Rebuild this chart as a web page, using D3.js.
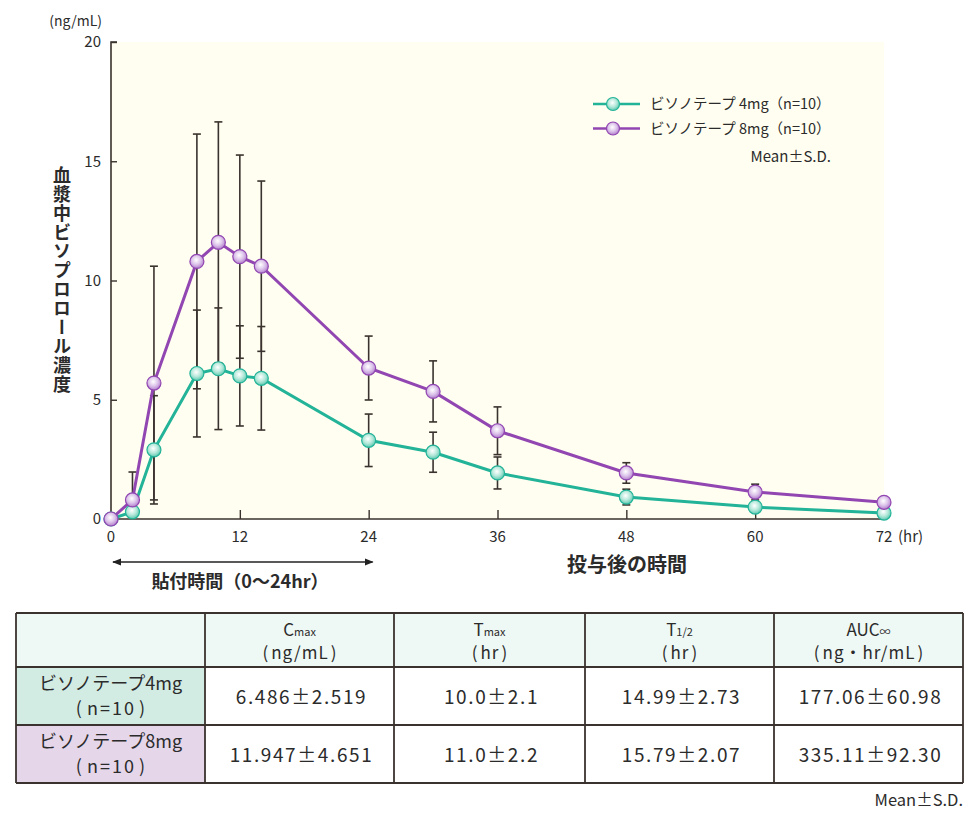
<!DOCTYPE html>
<html><head><meta charset="utf-8">
<script src="https://cdn.jsdelivr.net/npm/d3@7"></script>
<style>
html,body{margin:0;padding:0;background:#fff;}
svg{display:block;font-family:"Noto Sans CJK JP","Noto Sans",sans-serif;}
</style></head>
<body>
<script>
// ---- data ----
const times = [0, 2, 4, 8, 10, 12, 14, 24, 30, 36, 48, 60, 72];
const mean4 = [0, 0.3, 2.9, 6.1, 6.3, 6.0, 5.9, 3.3, 2.8, 1.93, 0.92, 0.5, 0.25];
const sd4   = [0, 0.4, 2.27, 2.66, 2.55, 2.1, 2.17, 1.1, 0.84, 0.67, 0.33, 0.2, 0.15];
const mean8 = [0, 0.8, 5.7, 10.8, 11.6, 11.0, 10.6, 6.33, 5.35, 3.7, 1.93, 1.13, 0.7];
const sd8   = [0, 1.17, 4.9, 5.34, 5.05, 4.26, 3.57, 1.34, 1.28, 1.0, 0.43, 0.33, 0.2];
const seriesNames = ["ビソノテープ 4mg（n=10）", "ビソノテープ 8mg（n=10）"];
const yTicks = [0, 5, 10, 15, 20];
const xTicks = [0, 12, 24, 36, 48, 60, 72];

const tableHeadMain = ["C", "T", "T", "AUC"];
const tableHeadSub  = ["max", "max", "1/2", "∞"];
const tableHeadUnit = ["(\u200Ang/mL\u200A)", "(\u200Ahr\u200A)", "(\u200Ahr\u200A)", "(\u200Ang・hr/mL\u200A)"];
const rowNames = ["ビソノテープ4mg", "ビソノテープ8mg"];
const rowN = ["(\u200An=10\u200A)", "(\u200An=10\u200A)"];
const row4 = ["6.486±2.519", "10.0±2.1", "14.99±2.73", "177.06±60.98"];
const row8 = ["11.947±4.651", "11.0±2.2", "15.79±2.07", "335.11±92.30"];

const colors = ["#22b398", "#9146b2"];
const gradStops = [["#ffffff", "#b5e8da", "#5cc9b0"], ["#ffffff", "#dcc3ea", "#b27fcd"]];
const textColor = "#2b2b2b";
const axisColor = "#3a322e";

const W = 969, H = 815;
const svg = d3.select("body").append("svg").attr("width", W).attr("height", H);

const x = d3.scaleLinear().domain([0, 72]).range([111, 884]);
const y = d3.scaleLinear().domain([0, 20]).range([519, 42]);

// gradients
const defs = svg.append("defs");
gradStops.forEach((g, i) => {
  const rg = defs.append("radialGradient").attr("id", "mg" + i).attr("cx", "45%").attr("cy", "40%").attr("r", "60%");
  rg.append("stop").attr("offset", "0%").attr("stop-color", g[0]);
  rg.append("stop").attr("offset", "55%").attr("stop-color", g[1]);
  rg.append("stop").attr("offset", "100%").attr("stop-color", g[2]);
});
const ah = defs.append("marker").attr("id", "ah").attr("viewBox", "0 0 10 10").attr("refX", 9).attr("refY", 5)
  .attr("markerWidth", 9).attr("markerHeight", 9).attr("markerUnits", "userSpaceOnUse").attr("orient", "auto-start-reverse");
ah.append("path").attr("d", "M0,1 L10,5 L0,9 Z").attr("fill", "#222");

// plot background
svg.append("rect").attr("x", x(0)).attr("y", y(20)).attr("width", x(72) - x(0)).attr("height", y(0) - y(20)).attr("fill", "#fffef0");

// axes
const gy = svg.append("g").attr("transform", `translate(${x(0)},0)`)
  .call(d3.axisRight(y).tickValues(yTicks).tickSize(6).tickFormat(""));
gy.select(".domain").attr("stroke", axisColor).attr("stroke-width", 1.6).attr("d", `M6,${y(20)}H0V${y(0)}`);
gy.selectAll(".tick line").attr("stroke", axisColor).attr("stroke-width", 1.4);
yTicks.forEach(t => {
  svg.append("text").attr("x", 101).attr("y", y(t)).attr("dy", "0.35em").attr("text-anchor", "end")
    .attr("font-size", 15).attr("fill", textColor).text(t);
});
svg.append("text").attr("x", 102).attr("y", 21).attr("dy", "0.35em").attr("text-anchor", "end")
  .attr("font-size", 14).attr("fill", textColor).text("(ng/mL)");

const gx = svg.append("g").attr("transform", `translate(0,${y(0)})`)
  .call(d3.axisTop(x).tickValues(xTicks.slice(1, -1)).tickSize(9).tickFormat(""));
gx.select(".domain").attr("stroke", axisColor).attr("stroke-width", 1.6).attr("d", `M${x(0)},0H${x(72)}`);
gx.selectAll(".tick line").attr("stroke", axisColor).attr("stroke-width", 1.4);
xTicks.forEach(t => {
  svg.append("text").attr("x", x(t)).attr("y", 537).attr("dy", "0.35em").attr("text-anchor", "middle")
    .attr("font-size", 15).attr("fill", textColor).text(t);
});
svg.append("text").attr("x", 898).attr("y", 537).attr("dy", "0.35em").attr("text-anchor", "start")
  .attr("font-size", 15).attr("fill", textColor).text("(hr)");

// axis titles
svg.append("text").attr("x", 627).attr("y", 565).attr("dy", "0.35em").attr("text-anchor", "middle")
  .attr("font-size", 20).attr("font-weight", "bold").attr("fill", textColor).text("投与後の時間");
svg.append("text").attr("x", 62).attr("y", 280).attr("text-anchor", "middle")
  .style("writing-mode", "vertical-rl").attr("font-size", 18).attr("font-weight", "bold")
  .attr("fill", textColor).attr("letter-spacing", 1).text("血漿中ビソプロロール濃度");

// dosing arrow
svg.append("line").attr("x1", x(0) + 2).attr("x2", x(24) + 4).attr("y1", 562).attr("y2", 562)
  .attr("stroke", "#222").attr("stroke-width", 1.5)
  .attr("marker-start", "url(#ah)").attr("marker-end", "url(#ah)");
svg.append("text").attr("x", 240).attr("y", 582).attr("dy", "0.35em").attr("text-anchor", "middle")
  .attr("font-size", 18).attr("font-weight", "bold").attr("fill", textColor).text("貼付時間（0〜24hr）");

// data
const series = [
  times.map((t, i) => ({ t, m: mean4[i], s: sd4[i] })),
  times.map((t, i) => ({ t, m: mean8[i], s: sd8[i] }))
];

// error bars
const eb = svg.append("g").attr("stroke", axisColor).attr("stroke-width", 1.6).attr("fill", "none");
series.forEach(ser => {
  ser.filter(d => d.s > 0).forEach(d => {
    const hi = d.m + d.s, lo = Math.max(0, d.m - d.s);
    eb.append("line").attr("x1", x(d.t)).attr("x2", x(d.t)).attr("y1", y(hi)).attr("y2", y(lo));
    eb.append("line").attr("x1", x(d.t) - 4).attr("x2", x(d.t) + 4).attr("y1", y(hi)).attr("y2", y(hi));
    if (d.m - d.s > 0)
      eb.append("line").attr("x1", x(d.t) - 4).attr("x2", x(d.t) + 4).attr("y1", y(lo)).attr("y2", y(lo));
  });
});

const line = d3.line().x(d => x(d.t)).y(d => y(d.m));
series.forEach((ser, i) => {
  svg.append("path").datum(ser).attr("d", line).attr("fill", "none")
    .attr("stroke", colors[i]).attr("stroke-width", 3);
});
series.forEach((ser, i) => {
  svg.append("g").selectAll("circle").data(ser).join("circle")
    .attr("cx", d => x(d.t)).attr("cy", d => y(d.m)).attr("r", 7)
    .attr("fill", `url(#mg${i})`).attr("stroke", colors[i]).attr("stroke-width", 1.2);
});

// legend
seriesNames.forEach((nm, i) => {
  const ly = 104 + i * 24.5;
  svg.append("line").attr("x1", 593).attr("x2", 640).attr("y1", ly).attr("y2", ly)
    .attr("stroke", colors[i]).attr("stroke-width", 2.5);
  svg.append("circle").attr("cx", 613).attr("cy", ly).attr("r", 6.5)
    .attr("fill", `url(#mg${i})`).attr("stroke", colors[i]).attr("stroke-width", 1.2);
  svg.append("text").attr("x", 650).attr("y", ly).attr("dy", "0.35em").attr("font-size", 14.5)
    .attr("fill", textColor).text(nm);
});
svg.append("text").attr("x", 831).attr("y", 157).attr("dy", "0.35em").attr("text-anchor", "end")
  .attr("font-size", 15).attr("fill", textColor).text("Mean±S.D.");

// ---- table ----
const colX = [16, 205, 394, 585, 774, 963];
const rowY = [613, 667, 725, 783];
const tg = svg.append("g");
tg.append("rect").attr("x", colX[0]).attr("y", rowY[0]).attr("width", colX[5] - colX[0]).attr("height", rowY[1] - rowY[0]).attr("fill", "#eef8f4");
tg.append("rect").attr("x", colX[0]).attr("y", rowY[1]).attr("width", colX[1] - colX[0]).attr("height", rowY[2] - rowY[1]).attr("fill", "#d3ece3");
tg.append("rect").attr("x", colX[0]).attr("y", rowY[2]).attr("width", colX[1] - colX[0]).attr("height", rowY[3] - rowY[2]).attr("fill", "#e5d6ea");
rowY.forEach(yy => tg.append("line").attr("x1", colX[0]).attr("x2", colX[5]).attr("y1", yy).attr("y2", yy)
  .attr("stroke", axisColor).attr("stroke-width", 1.8));
colX.forEach(xx => tg.append("line").attr("x1", xx).attr("x2", xx).attr("y1", rowY[0]).attr("y2", rowY[3])
  .attr("stroke", axisColor).attr("stroke-width", 1.8));
// header
tableHeadMain.forEach((h, j) => {
  const cx = (colX[j + 1] + colX[j + 2]) / 2;
  const t = tg.append("text").attr("x", cx).attr("y", 630).attr("dy", "0.35em").attr("text-anchor", "middle")
    .attr("font-size", 17).attr("fill", textColor);
  t.append("tspan").text(h);
  t.append("tspan").attr("font-size", 11).text(tableHeadSub[j]);
  tg.append("text").attr("x", cx + 0.5).attr("y", 653).attr("dy", "0.35em").attr("text-anchor", "middle")
    .attr("font-size", 17).attr("letter-spacing", 1).attr("fill", textColor).text(tableHeadUnit[j]);
});
// rows
[row4, row8].forEach((row, r) => {
  const top = rowY[r + 1], bot = rowY[r + 2], mid = (top + bot) / 2;
  const lc = (colX[0] + colX[1]) / 2;
  tg.append("text").attr("x", lc).attr("y", mid - 12).attr("dy", "0.35em").attr("text-anchor", "middle")
    .attr("font-size", 18).attr("fill", textColor).text(rowNames[r]);
  tg.append("text").attr("x", lc + 1).attr("y", mid + 13).attr("dy", "0.35em").attr("text-anchor", "middle")
    .attr("font-size", 18).attr("letter-spacing", 2).attr("fill", textColor).text(rowN[r]);
  row.forEach((v, j) => {
    tg.append("text").attr("x", (colX[j + 1] + colX[j + 2]) / 2 + 2).attr("y", mid + 1).attr("dy", "0.35em")
      .attr("text-anchor", "middle").attr("font-size", 19).attr("letter-spacing", 1.6)
      .attr("fill", textColor).text(v);
  });
});
svg.append("text").attr("x", 963).attr("y", 800).attr("dy", "0.35em").attr("text-anchor", "end")
  .attr("font-size", 16.5).attr("fill", textColor).text("Mean±S.D.");
</script>
</body></html>
